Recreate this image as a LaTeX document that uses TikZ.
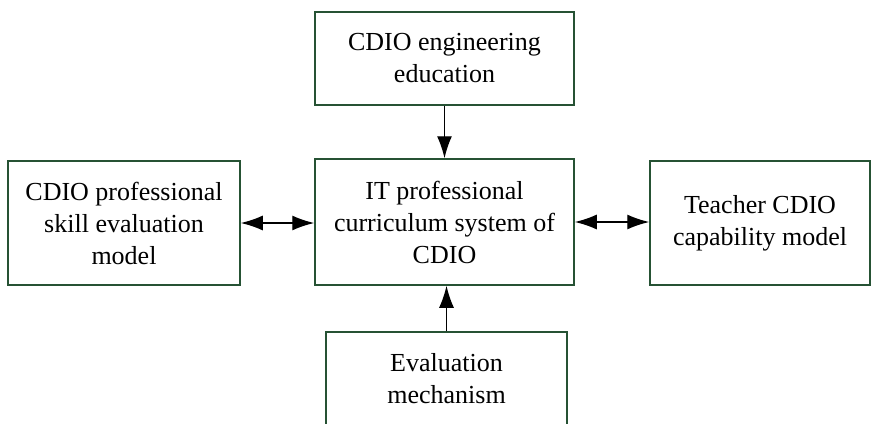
\documentclass[tikz,border=0pt]{standalone}
\usepackage{fontspec}
\setmainfont{Liberation Serif}
\usetikzlibrary{arrows.meta}
\definecolor{BoxGreen}{RGB}{38,82,52}
\tikzstyle{PartNode}=[rectangle, draw=BoxGreen, line width=1.5pt, align=center, inner sep=2pt, font=\fontsize{26}{32}\selectfont]
\tikzstyle{OneEdge}=[->, line width=1.4pt]
\tikzstyle{BothEdge}=[<->, line width=1.4pt]
\tikzset{>={Latex[length=22pt,width=15pt]}}

\begin{document}
\begin{tikzpicture}[x=1pt, y=-1pt]
\useasboundingbox (0,0) rectangle (872,423);
\node[PartNode, minimum width=259pt, minimum height=93pt](CEE) at (444.5,58.5) {CDIO engineering\\education};
\node[PartNode, minimum width=259pt, minimum height=126pt](ITC) at (444.5,222) {IT professional\\curriculum system of\\CDIO};
\node[PartNode, minimum width=232pt, minimum height=124pt](SEM) at (124,223) {CDIO professional\\skill evaluation\\model};
\node[PartNode, minimum width=220pt, minimum height=124pt](TCM) at (760,223) {Teacher CDIO\\capability model};
\node[PartNode, minimum width=241pt, minimum height=94pt](EVM) at (446.5,379) {Evaluation\\mechanism};

\draw[OneEdge](CEE.south) -- (ITC.north);
\draw[OneEdge](EVM.north) -- (EVM.north |- ITC.south);
\draw[BothEdge](SEM.east) -- (SEM.east -| ITC.west);
\draw[BothEdge](ITC.east) -- (ITC.east -| TCM.west);
\end{tikzpicture}
\end{document}
